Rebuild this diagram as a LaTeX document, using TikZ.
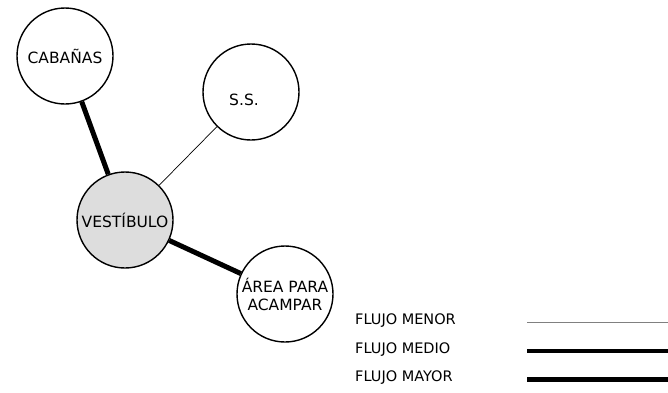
\documentclass[tikz,border=0pt]{standalone}
\usepackage{fontspec}
\setmainfont{DejaVu Sans}
\begin{document}
\begin{tikzpicture}[x=1pt,y=-1pt,
  zone/.style={circle,draw=black,line width=1.4pt,minimum size=96pt,inner sep=0pt,font=\fontsize{15.5}{18}\selectfont,align=center},
  thin flow/.style={line width=0.7pt},
  thick flow/.style={line width=5pt},
  legtext/.style={anchor=west,inner sep=0pt,font=\fontsize{14.5}{16}\selectfont}]
\useasboundingbox (0,0) rectangle (668,392);
\node[zone] (cab) at (65,56) {CABAÑAS};
\node[zone,label={[xshift=-7pt,yshift=-8pt,font=\fontsize{15.5}{18}\selectfont]center:S.S.}] (ss) at (251,92) {};
\node[zone,fill={rgb,255:red,221;green,221;blue,221}] (ves) at (125,220) {VESTÍBULO};
\node[zone] (are) at (285,294) {ÁREA PARA\\ ACAMPAR};
\draw[thick flow] (cab) -- (ves);
\draw[thin flow] (ss) -- (ves);
\draw[thick flow] (ves) -- (are);
\node[legtext] (lmenor) at (355,321) {FLUJO MENOR};
\node[legtext] (lmedio) at (355,350) {FLUJO MEDIO};
\node[legtext] (lmayor) at (355,378) {FLUJO MAYOR};
\coordinate (emenor) at (668,322);
\coordinate (emedio) at (668,351);
\coordinate (emayor) at (668,379);
\draw[line width=1pt,gray] (527,322) -- (emenor);
\draw[line width=3.5pt] (527,351) -- (emedio);
\draw[line width=5pt] (527,379) -- (emayor);
\end{tikzpicture}
\end{document}
